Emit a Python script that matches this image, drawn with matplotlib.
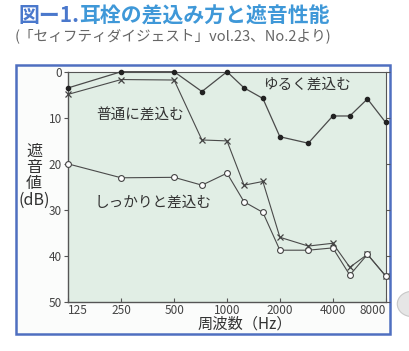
import matplotlib
matplotlib.use("Agg")
import matplotlib.pyplot as plt
from matplotlib.patches import Rectangle, Circle
from matplotlib.ticker import FixedLocator, NullLocator

plt.rcParams['font.family'] = ['Noto Sans CJK JP', 'DejaVu Sans']

# frequencies (Hz) of the measured points
freqs = [125, 250, 500, 720, 1000, 1250, 1600, 2000, 2900, 4000, 5000, 6300, 8000]
# attenuation (dB) for each insertion style
loose = [3.5, 0.0, 0.0, 4.3, 0.0, 3.5, 5.8, 14.1, 15.5, 9.6, 9.6, 5.9, 11.0]
normal = [4.9, 1.7, 1.8, 14.8, 15.0, 24.6, 23.8, 35.9, 37.8, 37.2, 42.4, 39.6, 44.3]
firm = [20.0, 23.0, 22.9, 24.6, 22.0, 28.2, 30.5, 38.7, 38.7, 38.2, 44.1, 39.6, 44.3]

xticks = [125, 250, 500, 1000, 2000, 4000, 8000]
yticks = [0, 10, 20, 30, 40, 50]

line_col = '#4a4a4a'
bg_col = '#e1eee5'

fig = plt.figure(figsize=(4.10, 3.51), dpi=100)

# blue frame around the chart
frame = Rectangle((0.039, 0.048), 0.912, 0.766, transform=fig.transFigure,
                  fill=True, facecolor='#fbfcfb', edgecolor='#4f6fc0',
                  linewidth=1.8, zorder=-10)
fig.patches.append(frame)
# grey disc at the right edge
disc = Circle((1.005, 0.134), 0.036, transform=fig.transFigure,
              facecolor='#e6e6e6', edgecolor='#c8c8c8', linewidth=0.8, zorder=-10)
fig.patches.append(disc)

ax = fig.add_axes([0.1666, 0.1387, 0.7741, 0.657])
ax.set_zorder(1)
ax.set_facecolor(bg_col)

ax.plot(freqs, loose, '-', color=line_col, lw=0.9, marker='o', ms=3.0,
        mfc='#222222', mec='#222222', zorder=3, clip_on=False)
ax.plot(freqs, normal, '-', color=line_col, lw=0.8, marker='x', ms=4.5,
        mew=0.9, mec='#444444', zorder=3, clip_on=False)
ax.plot(freqs, firm, '-', color=line_col, lw=0.8, marker='o', ms=4.2,
        mfc='white', mec='#444444', mew=0.8, zorder=3, clip_on=False)

ax.set_xscale('log')
ax.set_xlim(125, 8000)
ax.set_ylim(50, 0)

ax.xaxis.set_major_locator(FixedLocator(xticks))
ax.xaxis.set_minor_locator(NullLocator())
ax.set_xticklabels([str(v) for v in xticks])
ax.set_yticks(yticks)
ax.set_yticklabels([str(v) for v in yticks])

ax.tick_params(axis='x', direction='in', length=3, width=0.8, colors='#555555',
               labelsize=8.5, labelcolor='#444444', pad=1)
ax.tick_params(axis='y', direction='out', length=3, width=0.8, colors='#555555',
               labelsize=8.5, labelcolor='#444444', right=True, pad=1.5)
xl = ax.get_xticklabels()
xl[0].set_ha('left')
xl[-1].set_ha('right')

for side, sp in ax.spines.items():
    sp.set_color('#555555')
    sp.set_linewidth(1.0 if side in ('left', 'bottom') else 0.8)

ax.text(2840, 2.9, 'ゆるく差込む', fontsize=10.5, color='#333333', ha='center', va='center')
ax.text(320, 9.4, '普通に差込む', fontsize=10.5, color='#333333', ha='center', va='center')
ax.text(380, 28.3, 'しっかりと差込む', fontsize=10.5, color='#333333', ha='center', va='center')

fig.text(0.083, 0.50, '遮\n音\n値\n(dB)', fontsize=11.5, color='#333333',
         ha='center', va='center', linespacing=0.95)
fig.text(0.598, 0.076, '周波数（Hz）', fontsize=11, color='#333333', ha='center', va='center')

t1 = fig.text(0.044, 0.955, '図ー1.', fontsize=15, fontweight='bold',
              color='#4a78cc', ha='left', va='center')
fig.canvas.draw()
bb = t1.get_window_extent().transformed(fig.transFigure.inverted())
fig.text(bb.x1, 0.955, '耳栓の差込み方と遮音性能', fontsize=15, fontweight='bold',
         color='#3f98d8', ha='left', va='center')
fig.text(0.036, 0.898, '(「セィフティダイジェスト」vol.23、No.2より)', fontsize=10.5,
         color='#666666', ha='left', va='center')

fig.savefig('out.png', dpi=100)
